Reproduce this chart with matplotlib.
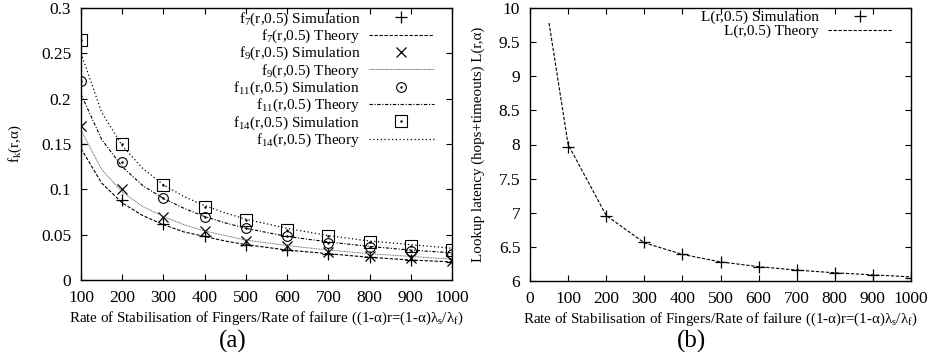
import matplotlib
matplotlib.use("Agg")
import matplotlib.pyplot as plt

plt.rcParams['font.family'] = ['Liberation Serif', 'DejaVu Serif']
plt.rcParams['mathtext.fontset'] = 'custom'
plt.rcParams['mathtext.rm'] = 'Liberation Serif'
plt.rcParams['mathtext.it'] = 'Liberation Serif:italic'
plt.rcParams['font.size'] = 10.8

# ---- panel (a) data ----
sim_x = [100, 200, 300, 400, 500, 600, 700, 800, 900, 1000]
f7_sim = [0.150, 0.088, 0.062, 0.048, 0.039, 0.033, 0.029, 0.025, 0.022, 0.020]
f9_sim = [0.170, 0.100, 0.070, 0.054, 0.043, 0.037, 0.031, 0.027, 0.024, 0.021]
f11_sim = [0.220, 0.130, 0.090, 0.070, 0.057, 0.048, 0.041, 0.036, 0.032, 0.029]
f14_sim = [0.265, 0.150, 0.105, 0.081, 0.066, 0.055, 0.048, 0.042, 0.037, 0.033]

th_x = [100, 150, 200, 250, 300, 350, 400, 450, 500, 600, 700, 800, 900, 1000]
f7_th = [0.145, 0.107, 0.085, 0.071, 0.061, 0.053, 0.048, 0.043, 0.039, 0.033, 0.029, 0.025, 0.022, 0.020]
f9_th = [0.165, 0.122, 0.097, 0.081, 0.070, 0.061, 0.054, 0.049, 0.044, 0.038, 0.033, 0.029, 0.026, 0.023]
f11_th = [0.205, 0.155, 0.125, 0.104, 0.090, 0.079, 0.070, 0.063, 0.057, 0.048, 0.042, 0.037, 0.033, 0.030]
f14_th = [0.250, 0.185, 0.148, 0.123, 0.105, 0.092, 0.082, 0.074, 0.067, 0.057, 0.049, 0.043, 0.039, 0.035]

# ---- panel (b) data ----
L_sim_x = [100, 200, 300, 400, 500, 600, 700, 800, 900, 1000]
L_sim = [7.97, 6.95, 6.57, 6.39, 6.28, 6.21, 6.16, 6.12, 6.09, 6.05]
L_th_x = [50, 100, 200, 300, 400, 500, 600, 700, 800, 900, 1000]
L_th = [9.78, 8.00, 6.96, 6.56, 6.39, 6.28, 6.21, 6.16, 6.12, 6.09, 6.06]

W, H = 941, 358
fig = plt.figure(figsize=(W / 100, H / 100), dpi=100)

def ax_rect(l, r, t, b):
    return [l / W, (H - b) / H, (r - l) / W, (b - t) / H]

xlabel = 'Rate of Stabilisation of Fingers/Rate of failure ((1-α)r=(1-α)λ$_\\mathrm{s}$/λ$_\\mathrm{f}$)'

def style_axes(ax):
    ax.tick_params(direction='in', top=True, right=True, length=4, width=0.8,
                   pad=7, labelsize=12.5)
    for s in ax.spines.values():
        s.set_linewidth(1.0)

leg_kw = dict(loc='upper right', frameon=False, markerfirst=False,
              handlelength=4.2, handletextpad=0.6, labelspacing=0.0,
              borderaxespad=0.2, fontsize=11)

# ---- left panel ----
ax1 = fig.add_axes(ax_rect(81, 452, 8, 280))
ms = 8
h7s, = ax1.plot(sim_x, f7_sim, ls='none', marker='+', color='black', ms=ms, mew=0.9)
h7t, = ax1.plot(th_x, f7_th, ls=(0, (3, 1.5)), color='black', lw=0.8)
h9s, = ax1.plot(sim_x, f9_sim, ls='none', marker='x', color='black', ms=7, mew=0.9)
h9t, = ax1.plot(th_x, f9_th, ls=(0, (1, 0.7)), color='#666666', lw=0.7)
h11s, = ax1.plot(sim_x, f11_sim, ls='none', marker='o', mfc='none', color='black', ms=7, mew=0.8)
h11d, = ax1.plot(sim_x, f11_sim, ls='none', marker='.', color='black', ms=1.5)
h11t, = ax1.plot(th_x, f11_th, ls=(0, (3, 1.5, 1, 1.5)), color='black', lw=0.8)
h14s, = ax1.plot(sim_x, f14_sim, ls='none', marker='s', mfc='none', color='black', ms=8, mew=0.8)
h14d, = ax1.plot(sim_x, f14_sim, ls='none', marker='.', color='black', ms=1.5)
h14t, = ax1.plot(th_x, f14_th, ls=(0, (1, 2)), color='black', lw=0.9)

ax1.set_xlim(100, 1000)
ax1.set_ylim(0, 0.3)
ax1.set_xticks(range(100, 1001, 100))
ax1.set_yticks([0, 0.05, 0.1, 0.15, 0.2, 0.25, 0.3])
ax1.set_yticklabels(['0', '0.05', '0.1', '0.15', '0.2', '0.25', '0.3'])
style_axes(ax1)
ax1.set_ylabel('f$_\\mathrm{k}$(r,α)', labelpad=12)
ax1.set_xlabel(xlabel, labelpad=3)

ax1.legend([h7s, h7t, h9s, h9t, (h11s, h11d), h11t, (h14s, h14d), h14t],
           ['f$_{7}$(r,0.5) Simulation', 'f$_{7}$(r,0.5) Theory',
            'f$_{9}$(r,0.5) Simulation', 'f$_{9}$(r,0.5) Theory',
            'f$_{11}$(r,0.5) Simulation', 'f$_{11}$(r,0.5) Theory',
            'f$_{14}$(r,0.5) Simulation', 'f$_{14}$(r,0.5) Theory'],
           bbox_to_anchor=(0.975, 1.025), **leg_kw)

fig.text(233 / W, (H - 341) / H, '(a)', ha='center', va='center', fontsize=18)

# ---- right panel ----
ax2 = fig.add_axes(ax_rect(530, 911, 8, 281))
hLs, = ax2.plot(L_sim_x, L_sim, ls='none', marker='+', color='black', ms=ms, mew=0.9)
hLt, = ax2.plot(L_th_x, L_th, ls=(0, (3, 1.5)), color='black', lw=0.8)
ax2.set_xlim(0, 1000)
ax2.set_ylim(6, 10)
ax2.set_xticks(range(0, 1001, 100))
ax2.set_yticks([6, 6.5, 7, 7.5, 8, 8.5, 9, 9.5, 10])
ax2.set_yticklabels(['6', '6.5', '7', '7.5', '8', '8.5', '9', '9.5', '10'])
style_axes(ax2)
ax2.set_ylabel('Lookup latency (hops+timeouts) L(r,α)', labelpad=10)
ax2.set_xlabel(xlabel, labelpad=3)
ax2.legend([hLs, hLt], ['L(r,0.5) Simulation', 'L(r,0.5) Theory'],
           bbox_to_anchor=(0.975, 1.025), **leg_kw)

fig.text(692 / W, (H - 341) / H, '(b)', ha='center', va='center', fontsize=18)

fig.savefig('out.png', dpi=100)
